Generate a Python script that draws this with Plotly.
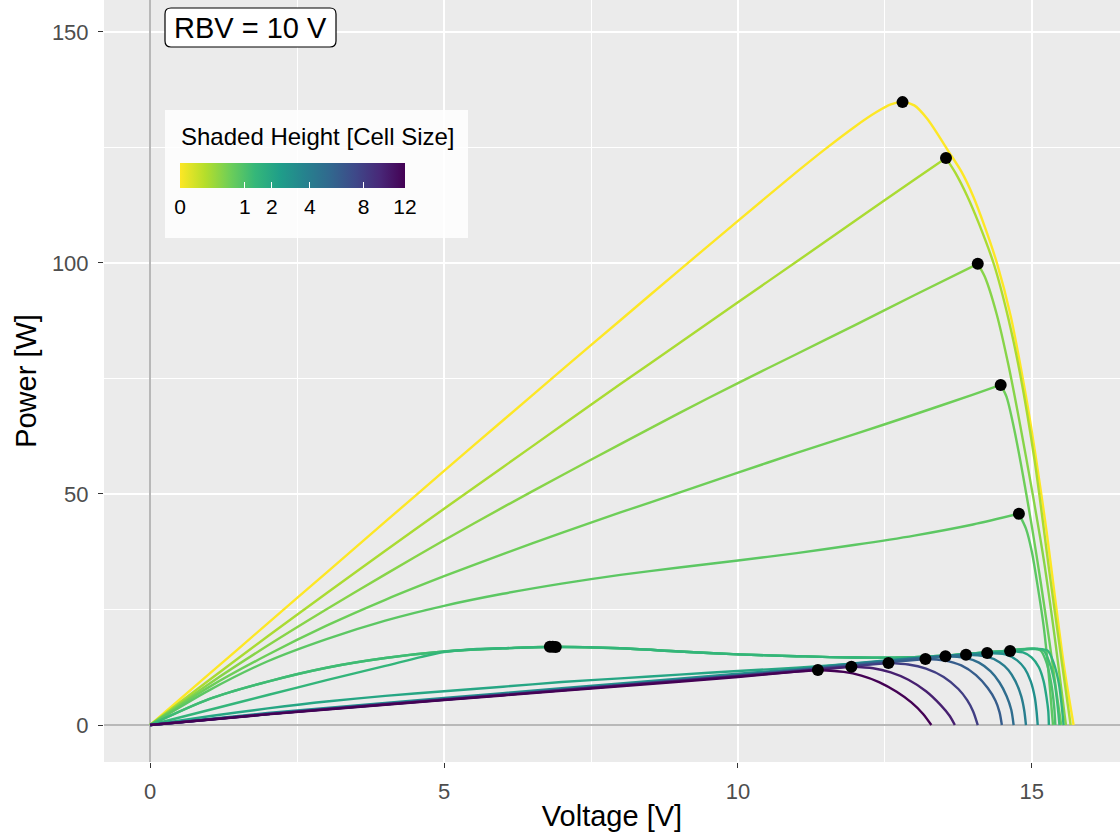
import numpy as np
import plotly.graph_objects as go
from plotly.colors import sample_colorscale, get_colorscale

# ---------------- data ----------------
heights = [0, 0.2, 0.4, 0.6, 0.8, 1.0, 1.2, 1.4, 2, 3, 4, 5, 6, 8, 10, 12]

V_h0 = [0, 1, 2, 3, 4, 5, 6, 7, 8, 9, 10, 11, 11.5, 12, 12.35, 12.6, 12.8, 13.0, 13.22, 13.59, 13.8, 14.0, 14.2, 14.41, 14.64, 14.86, 15.0, 15.12, 15.25, 15.4, 15.55, 15.71]
P_h0 = [0, 11.0, 22.0, 33.0, 44.0, 55.0, 65.9, 76.8, 87.6, 98.4, 109.1, 119.7, 124.8, 129.6, 132.6, 134.3, 134.8, 134.1, 131.2, 124.0, 119.8, 114.5, 107.8, 99.8, 88.5, 74.0, 63.5, 53.5, 42.0, 27.0, 12.5, 0]

V_h02 = [0, 1, 2, 3, 4, 5, 6, 7, 8, 9, 10, 11, 12, 13, 13.54, 13.7, 13.9, 14.1, 14.36, 14.6, 14.8, 15.05, 15.3, 15.5, 15.66]
P_h02 = [0, 9.7, 19.2, 28.5, 37.7, 46.8, 55.8, 64.8, 73.8, 82.6, 91.5, 100.3, 109.2, 118.0, 122.7, 119.5, 114.5, 108.5, 99.5, 88.0, 76.0, 57.0, 33.0, 14.5, 0]

V_h04 = [0, 1, 2, 3, 4, 5, 6, 7, 8, 9, 10, 11, 12, 13, 14.08, 14.2, 14.4, 14.6, 14.8, 15.0, 15.2, 15.4, 15.58]
P_h04 = [0, 8.9, 17.2, 25.05, 32.6, 40.0, 47.1, 54.0, 60.8, 67.5, 74.0, 80.3, 86.6, 93.0, 99.8, 97.0, 89.0, 78.0, 65.0, 51.0, 36.0, 18.0, 0]

V_h06 = [0, 1, 2, 3, 4, 5, 6, 7, 8, 9, 10, 11, 12, 13, 14, 14.47, 14.57, 14.7, 14.85, 15.0, 15.15, 15.3, 15.42, 15.5]
P_h06 = [0, 8.2, 15.2, 21.5, 27.1, 32.2, 37.0, 41.6, 46.0, 50.3, 54.6, 58.9, 63.0, 67.2, 71.5, 73.6, 71.0, 64.0, 54.0, 43.0, 31.0, 18.0, 7.0, 0]

V_h08 = [0, 1, 2, 3, 4, 5, 6, 7, 8, 9, 10, 11, 12, 13, 14, 14.78, 14.9, 15.0, 15.1, 15.2, 15.28, 15.34, 15.36]
P_h08 = [0, 7.5, 13.8, 18.6, 22.6, 25.8, 28.4, 30.6, 32.5, 34.1, 35.6, 37.2, 39.0, 41.0, 43.4, 45.7, 42.5, 37.5, 30.0, 21.5, 12.0, 3.0, 0]

V_h10 = [0, 1, 2, 3, 4, 5, 6, 6.8, 8, 9, 10, 11, 12, 13, 13.5, 14, 14.5, 15.0, 15.15, 15.25, 15.33, 15.38, 15.40]
P_h10 = [0, 5.6, 9.4, 12.4, 14.5, 15.9, 16.6, 16.95, 16.6, 15.9, 15.3, 14.9, 14.6, 14.7, 15.0, 15.5, 16.0, 16.5, 16.1, 13.5, 9.0, 4.0, 0]

V_h12 = [0, 1, 2, 3, 4, 5, 6, 6.9, 8, 9, 10, 11, 12, 13, 13.5, 14, 14.5, 15.05, 15.2, 15.3, 15.39, 15.44, 15.47]
P_h12 = [0, 5.6, 9.4, 12.4, 14.5, 15.9, 16.6, 16.9, 16.6, 15.9, 15.3, 14.9, 14.6, 14.7, 15.0, 15.5, 16.0, 16.5, 16.1, 13.5, 9.0, 4.0, 0]

V_h14 = [0, 1, 2, 3, 4, 4.6, 5.0, 5.5, 6, 6.85, 8, 9, 10, 11, 12, 13, 13.5, 14, 14.5, 15.1, 15.27, 15.37, 15.46, 15.51, 15.54]
P_h14 = [0, 3.25, 6.5, 9.7, 12.8, 14.7, 15.8, 16.4, 16.6, 16.92, 16.6, 15.9, 15.3, 14.9, 14.6, 14.7, 15.0, 15.5, 16.0, 16.5, 16.1, 13.5, 9.0, 4.0, 0]

V_h2 = [0, 1, 2, 3, 4, 5, 6, 7, 8, 9, 10, 11, 12, 13, 14, 14.63, 14.85, 15.0, 15.12, 15.2, 15.25, 15.28, 15.29]
P_h2 = [0, 1.9, 3.6, 5.1, 6.3, 7.3, 8.3, 9.3, 10.1, 10.9, 11.7, 12.4, 13.3, 14.3, 15.3, 16.0, 15.7, 14.6, 12.5, 9.5, 6.0, 3.0, 0]

V_h3 = [0, 2, 4, 6, 8, 10, 11, 12, 13, 14.24, 14.55, 14.75, 14.88, 14.98, 15.05, 15.08, 15.10]
P_h3 = [0, 2.6, 4.8, 6.9, 9.0, 11.1, 12.1, 13.4, 14.5, 15.6, 15.3, 14.0, 12.2, 9.5, 6.0, 3.0, 0]

V_h4 = [0, 2, 4, 6, 8, 10, 11, 12, 13, 13.88, 14.2, 14.45, 14.6, 14.72, 14.82, 14.87, 14.90]
P_h4 = [0, 2.45, 4.6, 6.7, 8.7, 10.8, 11.9, 13.2, 14.4, 15.2, 14.9, 13.6, 11.9, 9.5, 6.2, 3.2, 0]

V_h5 = [0, 2, 4, 6, 8, 10, 11, 12, 13, 13.53, 13.85, 14.1, 14.3, 14.45, 14.57, 14.65, 14.69]
P_h5 = [0, 2.4, 4.55, 6.6, 8.65, 10.75, 11.85, 13.1, 14.3, 14.9, 14.6, 13.5, 11.6, 9.2, 6.3, 3.3, 0]

V_h6 = [0, 2, 4, 6, 8, 10, 11, 12, 13.19, 13.5, 13.8, 14.05, 14.25, 14.38, 14.45, 14.49]
P_h6 = [0, 2.4, 4.5, 6.55, 8.6, 10.7, 11.8, 12.95, 14.3, 14.0, 12.9, 10.8, 8.0, 5.3, 2.8, 0]

V_h8 = [0, 2, 4, 6, 8, 10, 11, 12, 12.56, 12.9, 13.2, 13.5, 13.75, 13.9, 14.0, 14.08]
P_h8 = [0, 2.35, 4.45, 6.5, 8.55, 10.6, 11.7, 12.8, 13.4, 13.1, 12.2, 10.4, 7.8, 5.4, 3.0, 0]

V_h10c = [0, 2, 4, 6, 8, 10, 11, 11.93, 12.3, 12.6, 12.9, 13.2, 13.45, 13.6, 13.69]
P_h10c = [0, 2.35, 4.5, 6.5, 8.55, 10.55, 11.6, 12.6, 12.3, 11.4, 9.8, 7.3, 4.3, 2.0, 0]

V_h12c = [0, 2, 4, 6, 8, 10, 11, 11.36, 11.8, 12.1, 12.4, 12.7, 12.95, 13.15, 13.29]
P_h12c = [0, 2.3, 4.4, 6.4, 8.4, 10.4, 11.55, 11.9, 11.5, 10.7, 9.3, 7.2, 4.9, 2.4, 0]

curves_V = [V_h0, V_h02, V_h04, V_h06, V_h08, V_h10, V_h12, V_h14,
            V_h2, V_h3, V_h4, V_h5, V_h6, V_h8, V_h10c, V_h12c]
curves_P = [P_h0, P_h02, P_h04, P_h06, P_h08, P_h10, P_h12, P_h14,
            P_h2, P_h3, P_h4, P_h5, P_h6, P_h8, P_h10c, P_h12c]
# curves whose maximum power point is a sharp corner (split there)
sharp_corner = [False, True, True, True, True, False, False, False,
                True, True, True, True, True, True, True, True]

cbar_ticks = [0, 1, 2, 4, 8, 12]
x_ticks = [0, 5, 10, 15]
y_ticks = [0, 50, 100, 150]
label_text = "RBV = 10 V"
legend_title = "Shaded Height [Cell Size]"

# ---------------- figure ----------------
W, H = 1120, 834
ML, MR, MT, MB = 104, 0, 0, 72
PW, PH = W - ML - MR, H - MT - MB
FONT = "Liberation Sans, Arial, sans-serif"


def px_x(px):
    return (px - ML) / PW


def px_y(py):
    return (H - MB - py) / PH


hmax = max(heights)
scale_pos = lambda h: np.sqrt(h) / np.sqrt(hmax)
vir = get_colorscale("Viridis")

fig = go.Figure()
mpp_v, mpp_p = [], []
for h, vv, pp, sharp in zip(heights, curves_V, curves_P, sharp_corner):
    col = sample_colorscale(vir, [1 - scale_pos(h)])[0]
    i = int(np.argmax(pp))
    mpp_v.append(vv[i])
    mpp_p.append(pp[i])
    segs = [(vv[:i + 1], pp[:i + 1]), (vv[i:], pp[i:])] if sharp else [(vv, pp)]
    for sv, sp in segs:
        fig.add_trace(go.Scatter(x=sv, y=sp, mode="lines",
                                 line=dict(color=col, width=2.4, shape="spline", smoothing=0.8),
                                 hoverinfo="skip", showlegend=False))

# maximum power points
fig.add_trace(go.Scatter(x=mpp_v, y=mpp_p, mode="markers",
                         marker=dict(color="black", size=12),
                         hoverinfo="skip", showlegend=False))

# colorbar (sqrt-transformed scale)
fig.add_trace(go.Scatter(
    x=[None], y=[None], mode="markers", showlegend=False, hoverinfo="skip",
    marker=dict(color=[0], cmin=0, cmax=np.sqrt(hmax), colorscale="Viridis_r",
                showscale=True,
                colorbar=dict(orientation="h",
                              lenmode="pixels", len=225, thickness=25,
                              x=px_x(180), xanchor="left",
                              y=px_y(163), yanchor="top",
                              tickvals=[np.sqrt(t) for t in cbar_ticks],
                              ticktext=[str(t) for t in cbar_ticks],
                              ticks="inside", ticklen=6, tickcolor="white", tickwidth=1.2,
                              tickfont=dict(size=21, color="black", family=FONT),
                              outlinewidth=0, xpad=0, ypad=0))))

# legend background box
fig.add_shape(type="rect", xref="paper", yref="paper",
              x0=px_x(165), x1=px_x(468), y0=px_y(238), y1=px_y(110),
              fillcolor="rgba(255,255,255,0.85)", line=dict(width=0), layer="above")
fig.add_annotation(xref="paper", yref="paper", x=px_x(179), y=px_y(137),
                   text=legend_title, showarrow=False, xanchor="left", yanchor="middle",
                   font=dict(size=24, color="black", family=FONT))


# rounded label box
def rounded_rect(x0, y0, x1, y1, r):
    return (f"M {px_x(x0 + r)},{px_y(y0)} L {px_x(x1 - r)},{px_y(y0)} "
            f"Q {px_x(x1)},{px_y(y0)} {px_x(x1)},{px_y(y0 + r)} "
            f"L {px_x(x1)},{px_y(y1 - r)} Q {px_x(x1)},{px_y(y1)} {px_x(x1 - r)},{px_y(y1)} "
            f"L {px_x(x0 + r)},{px_y(y1)} Q {px_x(x0)},{px_y(y1)} {px_x(x0)},{px_y(y1 - r)} "
            f"L {px_x(x0)},{px_y(y0 + r)} Q {px_x(x0)},{px_y(y0)} {px_x(x0 + r)},{px_y(y0)} Z")


fig.add_shape(type="path", xref="paper", yref="paper",
              path=rounded_rect(165, 8, 336, 47, 6),
              fillcolor="white", line=dict(color="black", width=1.2), layer="above")
fig.add_annotation(xref="paper", yref="paper", x=px_x(250.5), y=px_y(28),
                   text=label_text, showarrow=False, xanchor="center", yanchor="middle",
                   font=dict(size=29, color="black", family=FONT))

axis_common = dict(showgrid=True, gridcolor="white", gridwidth=1.6,
                   zeroline=True, zerolinecolor="#b8b8b8", zerolinewidth=2,
                   ticks="outside", ticklen=5, tickcolor="#333333", tickwidth=1,
                   tickfont=dict(size=22, color="#4d4d4d", family=FONT),
                   ticklabelstandoff=5, showline=False)

fig.update_layout(
    width=W, height=H,
    margin=dict(l=ML, r=MR, t=MT, b=MB, pad=0),
    paper_bgcolor="white", plot_bgcolor="#ebebeb",
    font=dict(family=FONT),
    xaxis=dict(range=[-0.786, 16.5], tickvals=x_ticks,
               minor=dict(dtick=2.5, showgrid=True, gridcolor="white", gridwidth=0.8),
               title=dict(text="Voltage [V]", font=dict(size=29, color="black", family=FONT), standoff=2),
               **axis_common),
    yaxis=dict(range=[-8.0, 156.9], tickvals=y_ticks,
               minor=dict(dtick=25, showgrid=True, gridcolor="white", gridwidth=0.8),
               title=dict(text="Power [W]", font=dict(size=29, color="black", family=FONT), standoff=6),
               **axis_common),
)

fig.write_html("out.html")
